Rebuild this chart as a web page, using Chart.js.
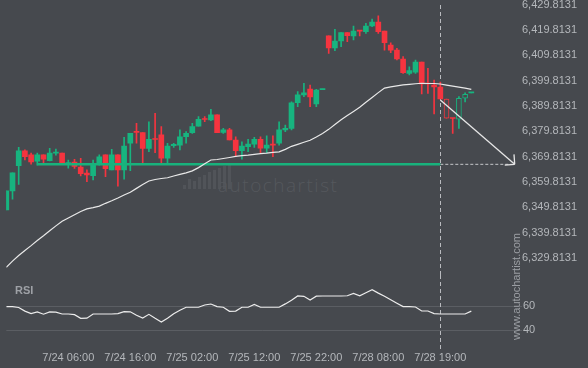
<!DOCTYPE html>
<html>
<head>
<meta charset="utf-8">
<script src="https://cdn.jsdelivr.net/npm/chart.js@4.4.1/dist/chart.umd.min.js"></script>
<style>
html,body{margin:0;padding:0;background:#46494e;width:588px;height:368px;overflow:hidden;font-family:"Liberation Sans",Arial,sans-serif;}
#wrap{position:relative;width:588px;height:368px;}
#priceCanvas{position:absolute;left:0;top:-20px;}
#rsiCanvas{position:absolute;left:0;top:275px;}
#wmText{position:absolute;left:218px;top:175px;font-family:"Open Sans",sans-serif;font-weight:300;font-size:19px;letter-spacing:1.5px;color:#55585d;line-height:20px;}
#logo{position:absolute;left:183px;top:160px;width:50px;height:30px;}
#logo span{position:absolute;bottom:1px;width:3px;background:#515459;}
#rsiLabel{position:absolute;left:15px;top:284px;font-weight:bold;font-size:11px;line-height:12px;color:#9ea1a6;}
#site{position:absolute;left:464px;top:282px;width:104px;height:12px;line-height:12px;font-size:11px;color:#9c9fa4;text-align:center;transform:rotate(-90deg);transform-origin:center center;white-space:nowrap;}
</style>
</head>
<body>
<div id="wrap">
  <div id="logo"><span style="left:0;height:4px"></span><span style="left:5px;height:10px"></span><span style="left:10px;height:8px"></span><span style="left:15px;height:12px"></span><span style="left:20px;height:14px"></span><span style="left:25px;height:17px"></span><span style="left:30px;height:19px"></span><span style="left:35px;height:21px"></span><span style="left:40px;height:23px"></span><span style="left:45px;height:25px"></span></div>
  <div id="wmText">autochartist</div>
  <canvas id="priceCanvas" width="588" height="295"></canvas>
  <canvas id="rsiCanvas" width="588" height="93"></canvas>
  <div id="rsiLabel">RSI</div>
  <div id="site">www.autochartist.com</div>
</div>
<script>
// ---------- data ----------
const OPEN  = [6348.8,6356.3,6366.3,6372.1,6370.5,6368.0,6370.5,6368.2,6371.2,6371.2,
               6367.1,6367.7,6365.7,6363.3,6362.3,6367.2,6370.5,6364.6,6370.5,6364.6,
               6375.1,6379.5,6379.3,6373.1,6376.7,6378.4,6369.2,6374.2,6374.4,6377.7,
               6379.3,6381.9,6384.6,6384.3,6386.3,6379.4,6380.4,6376.4,6372.2,6373.8,
               6374.8,6376.7,6373.2,6374.5,6375.1,6380.4,6381.0,6391.1,6394.2,6396.5,
               6390.6,6396.3,6417.5,6412.8,6415.5,6418.8,6417.5,6419.5,6419.2,6421.4,
               6423.0,6419.4,6413.9,6411.9,6408.3,6402.7,6403.2,6407.2,6398.6,6398.1,
               6397.3,6392.6,6385.0,6384.6,6392.9,6395.0];
const HIGH  = [6356.3,6363.4,6373.5,6372.5,6371.2,6371.2,6370.5,6373.1,6372.8,6371.2,
               6368.5,6368.8,6369.2,6364.6,6368.5,6370.5,6370.5,6372.7,6370.5,6377.5,
               6379.0,6383.0,6379.3,6383.6,6386.9,6381.7,6375.1,6375.1,6380.4,6379.7,
               6383.0,6385.6,6385.6,6388.5,6386.3,6381.0,6381.0,6377.7,6375.7,6376.7,
               6377.5,6377.7,6378.0,6378.0,6383.6,6382.3,6391.5,6395.5,6398.8,6398.1,
               6396.4,6396.5,6417.5,6420.1,6418.8,6418.8,6421.4,6419.5,6422.5,6424.1,
               6425.4,6419.4,6414.8,6412.6,6409.3,6405.3,6408.0,6407.2,6404.7,6400.1,
               6399.3,6392.6,6385.0,6393.5,6395.0,6395.1];
const LOW   = [6348.8,6353.0,6358.9,6368.5,6366.9,6366.5,6367.2,6368.1,6370.4,6366.9,
               6365.3,6365.2,6362.2,6359.9,6360.6,6366.5,6361.9,6364.6,6358.2,6360.9,
               6364.3,6375.1,6367.2,6371.8,6371.4,6367.4,6367.4,6373.5,6372.5,6375.1,
               6379.0,6381.9,6383.6,6384.0,6379.3,6379.0,6376.4,6369.8,6368.8,6371.8,
               6373.5,6371.2,6371.4,6369.8,6374.4,6379.7,6380.4,6389.6,6393.5,6389.6,
               6389.6,6396.3,6410.6,6411.7,6413.2,6415.2,6415.9,6417.5,6418.5,6421.1,
               6418.5,6411.9,6410.9,6408.0,6402.7,6402.1,6402.7,6394.6,6394.8,6386.7,
               6392.6,6385.0,6379.0,6381.0,6391.4,6395.0];
const CLOSE = [6356.3,6363.4,6372.1,6369.8,6367.7,6370.5,6368.8,6371.2,6371.5,6367.2,
               6367.2,6366.0,6363.1,6362.6,6367.2,6369.8,6365.1,6370.5,6364.6,6374.0,
               6379.0,6379.4,6373.1,6376.7,6376.6,6369.2,6374.0,6374.7,6377.7,6379.0,
               6381.7,6384.6,6384.5,6386.3,6379.3,6380.4,6376.4,6372.2,6374.0,6374.8,
               6376.7,6373.2,6374.4,6374.4,6380.4,6381.0,6391.1,6394.2,6395.0,6393.4,
               6396.1,6396.4,6412.8,6415.5,6418.8,6417.6,6419.4,6419.4,6421.4,6423.0,
               6419.2,6414.8,6411.9,6408.4,6403.0,6403.8,6407.2,6398.5,6398.5,6397.4,
               6392.6,6385.0,6384.9,6392.9,6394.4,6395.1];
const MA    = [6326.1,6328.6,6330.8,6332.8,6334.7,6336.7,6338.6,6340.6,6342.5,6344.3,
               6345.6,6346.9,6348.2,6349.2,6349.7,6350.3,6351.4,6352.4,6353.5,6354.7,
               6355.8,6357.3,6358.8,6360.2,6360.8,6361.2,6361.5,6362.2,6362.8,6363.4,
               6364.2,6365.5,6367.0,6368.5,6368.7,6369.1,6369.5,6369.9,6370.2,6370.4,
               6370.7,6371.0,6371.2,6371.5,6371.7,6372.7,6373.9,6374.7,6375.5,6376.3,
               6377.6,6379.0,6380.6,6382.5,6384.4,6386.1,6387.7,6389.3,6391.3,6393.2,
               6395.1,6396.9,6397.4,6397.8,6398.2,6398.4,6398.6,6398.8,6398.7,6398.7,
               6398.5,6398.1,6397.7,6397.3,6396.9,6396.4];
const RSI   = [59.7,59.7,59.0,56.0,53.9,55.3,53.4,55.4,55.2,53.6,
               53.6,53.0,50.0,50.1,53.6,53.6,53.6,53.6,53.9,55.5,
               55.4,52.6,50.2,53.3,50.0,46.9,50.1,53.8,56.7,59.2,
               59.2,59.2,61.1,61.9,59.7,59.2,55.8,56.0,59.2,59.2,
               61.6,59.2,59.2,59.2,59.2,62.0,65.1,68.6,68.3,65.3,
               68.4,68.6,68.6,68.6,68.6,68.8,70.7,68.7,71.3,73.9,
               71.0,68.4,65.5,62.6,59.8,59.7,59.4,56.1,56.1,53.9,
               53.6,53.6,53.6,53.6,53.6,56.0];
const HOLLOW = [71,73,74];
const PRICE_TICKS = [6329.8131,6339.8131,6349.8131,6359.8131,6369.8131,6379.8131,6389.8131,6399.8131,6409.8131,6419.8131,6429.8131];
const RSI_TICKS = [40,60];
const TIME_TICK_INDEX  = [10,20,30,40,50,60,70];
const TIME_TICK_LABELS = ["7/24 06:00","7/24 16:00","7/25 02:00","7/25 12:00","7/25 22:00","7/28 08:00","7/28 19:00"];
const TARGET_LEVEL = 6366.8;
const TARGET_START_INDEX = 5;
const FORECAST_START_INDEX = 70;
const FORECAST_START_PRICE = 6392.2;
const FORECAST_END_INDEX = 82;

// ---------- style ----------
const GREEN = '#17b47f', RED = '#f5343f', BG = '#46494e';
const FONT = 'Liberation Sans';
const AXIS_TEXT = '#b4b7bb';
const X_MAX = 82.53;
const PLOT_LEFT = 6.3;

const idx = OPEN.map((_, i) => i);
const colorOf = i => CLOSE[i] >= OPEN[i] ? GREEN : RED;
const fmt = v => Number(v).toLocaleString('en-US', {minimumFractionDigits: 4, maximumFractionDigits: 4});

const overlayA = {
  id: 'overlayA',
  beforeDatasetsDraw(chart) {
    const {ctx, scales: {x}} = chart;
    const vx = Math.round(x.getPixelForValue(FORECAST_START_INDEX)) + 0.5;
    ctx.save();
    ctx.strokeStyle = '#b9bbbf'; ctx.lineWidth = 1; ctx.setLineDash([4, 3]);
    ctx.beginPath(); ctx.moveTo(vx, 25); ctx.lineTo(vx, chart.height); ctx.stroke();
    ctx.restore();
  },
  afterDatasetsDraw(chart) {
    const {ctx, scales: {x, y}} = chart;
    const x0 = x.getPixelForValue(FORECAST_START_INDEX), y0 = y.getPixelForValue(FORECAST_START_PRICE);
    const x1 = x.getPixelForValue(FORECAST_END_INDEX), y1 = y.getPixelForValue(TARGET_LEVEL);
    const a = Math.atan2(y1 - y0, x1 - x0);
    ctx.save();
    ctx.strokeStyle = '#e6e6e6'; ctx.lineWidth = 1.3;
    ctx.beginPath();
    for (const d of [-Math.PI / 4, Math.PI / 4]) {
      ctx.moveTo(x1, y1);
      ctx.lineTo(x1 - 10 * Math.cos(a + d), y1 - 10 * Math.sin(a + d));
    }
    ctx.stroke();
    ctx.restore();
  }
};

new Chart(document.getElementById('priceCanvas'), {
  type: 'bar',
  data: {
    datasets: [
      { type: 'line', data: MA.map((v, i) => ({x: i, y: v})), borderColor: '#e8e8e8', borderWidth: 1.2, pointRadius: 0, order: 0 },
      { type: 'line', data: [{x: FORECAST_START_INDEX, y: FORECAST_START_PRICE}, {x: FORECAST_END_INDEX, y: TARGET_LEVEL}], borderColor: '#e6e6e6', borderWidth: 1.3, pointRadius: 0, order: 0 },
      { type: 'line', data: [{x: TARGET_START_INDEX, y: TARGET_LEVEL}, {x: FORECAST_START_INDEX, y: TARGET_LEVEL}], borderColor: '#18b27c', borderWidth: 2.5, pointRadius: 0, order: 1 },
      { type: 'line', data: [{x: FORECAST_START_INDEX, y: TARGET_LEVEL}, {x: FORECAST_END_INDEX, y: TARGET_LEVEL}], borderColor: '#c6c8cb', borderWidth: 1, borderDash: [3, 2], pointRadius: 0, order: 1 },
      { data: idx.map(i => ({x: i, y: [OPEN[i], CLOSE[i]]})),
        backgroundColor: c => HOLLOW.includes(c.dataIndex) ? BG : colorOf(c.dataIndex),
        borderColor: c => colorOf(c.dataIndex),
        borderWidth: c => HOLLOW.includes(c.dataIndex) ? 1 : 0,
        borderSkipped: false, barThickness: 5, minBarLength: 1, grouped: false, order: 2 },
      { data: idx.map(i => ({x: i, y: [LOW[i], HIGH[i]]})),
        backgroundColor: c => colorOf(c.dataIndex),
        borderWidth: 0, barThickness: 1, grouped: false, order: 3 }
    ]
  },
  options: {
    responsive: false, animation: false, events: [],
    layout: {padding: {left: PLOT_LEFT, right: 0, top: 0, bottom: 0}},
    plugins: {legend: {display: false}, tooltip: {enabled: false}},
    scales: {
      x: {type: 'linear', min: 0, max: X_MAX, display: false, offset: false},
      y: {type: 'linear', position: 'right', min: 6323.10, max: 6439.57,
          grid: {display: false, drawTicks: false}, border: {display: false},
          ticks: {color: AXIS_TEXT, font: {family: FONT, size: 11}, padding: 4, callback: v => fmt(v)},
          afterBuildTicks: s => { s.ticks = PRICE_TICKS.map(v => ({value: v})); },
          afterFit: s => { s.width = 70; s.paddingTop = 0; s.paddingBottom = 0; }}
    }
  },
  plugins: [overlayA]
});

const overlayB = {
  id: 'overlayB',
  beforeDatasetsDraw(chart) {
    const {ctx, scales: {x}} = chart;
    const vx = Math.round(x.getPixelForValue(FORECAST_START_INDEX)) + 0.5;
    ctx.save();
    ctx.strokeStyle = '#b9bbbf'; ctx.lineWidth = 1; ctx.setLineDash([4, 3]);
    ctx.beginPath(); ctx.moveTo(vx, 0); ctx.lineTo(vx, 76); ctx.stroke();
    ctx.restore();
  }
};

new Chart(document.getElementById('rsiCanvas'), {
  type: 'line',
  data: {datasets: [{data: RSI.map((v, i) => ({x: i, y: v})), borderColor: '#ececec', borderWidth: 1.2, pointRadius: 0}]},
  options: {
    responsive: false, animation: false, events: [],
    layout: {padding: {left: PLOT_LEFT, right: 0, top: 0, bottom: 0}},
    plugins: {legend: {display: false}, tooltip: {enabled: false}},
    scales: {
      x: {type: 'linear', min: 0, max: X_MAX, offset: false,
          grid: {display: false, drawTicks: false}, border: {display: false},
          ticks: {color: AXIS_TEXT, font: {family: FONT, size: 11}, padding: 8, maxRotation: 0, autoSkip: false,
                  callback: v => { const k = TIME_TICK_INDEX.indexOf(v); return k >= 0 ? TIME_TICK_LABELS[k] : ''; }},
          afterBuildTicks: s => { s.ticks = TIME_TICK_INDEX.map(v => ({value: v})); },
          afterFit: s => { s.height = 25; s.paddingLeft = 0; s.paddingRight = 0; }},
      y: {type: 'linear', position: 'right', min: 29.42, max: 86.08,
          grid: {color: '#5b5e63', lineWidth: 1, drawTicks: true, tickLength: 4}, border: {display: false},
          ticks: {color: AXIS_TEXT, font: {family: FONT, size: 11}, padding: 1, callback: v => String(v)},
          afterBuildTicks: s => { s.ticks = RSI_TICKS.map(v => ({value: v})); },
          afterFit: s => { s.width = 70; s.paddingTop = 0; s.paddingBottom = 0; }}
    }
  },
  plugins: [overlayB]
});
</script>
</body>
</html>
